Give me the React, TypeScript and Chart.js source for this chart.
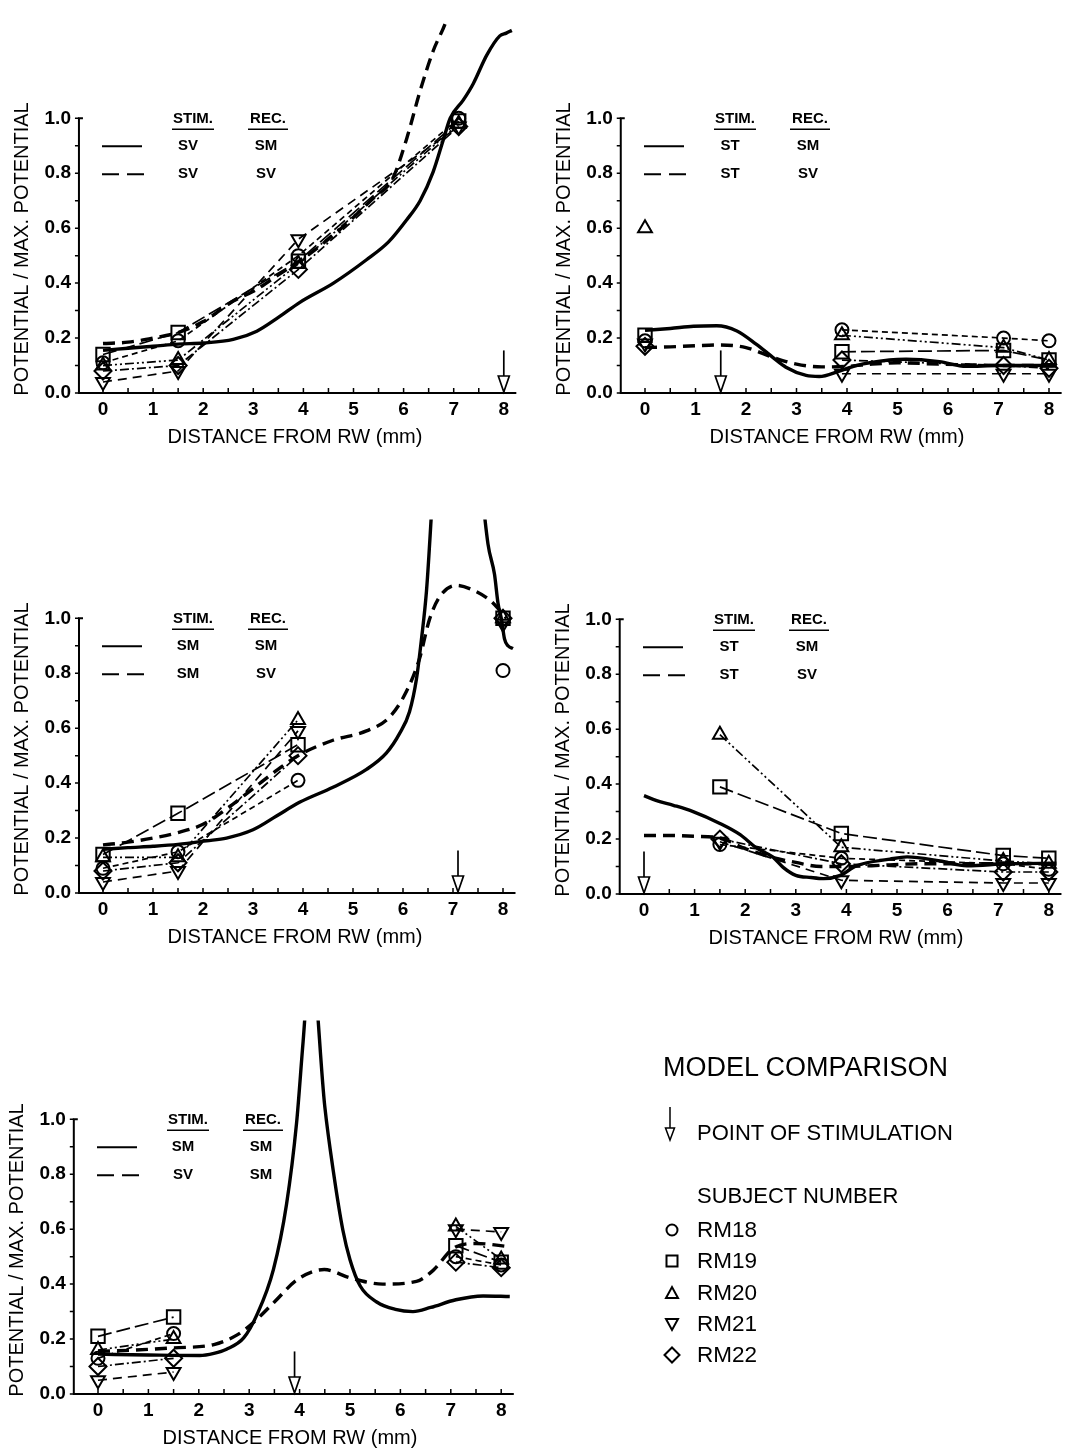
import React, { useEffect, useRef } from "react";
import { Chart, registerables } from "chart.js";

Chart.register(...registerables);

const FONT = '"Liberation Sans", Arial, Helvetica, sans-serif';

// ---------- shared axis values ----------
const X_TICKS = [0, 1, 2, 3, 4, 5, 6, 7, 8];
const Y_TICKS = [0, 0.2, 0.4, 0.6, 0.8, 1.0];
const X_MIN = -0.48;
const X_MAX = 8.25;
const Y_MAX = 1.36;

const SUBJECT_NAMES = ["RM18", "RM19", "RM20", "RM21", "RM22"];
const SUBJECT_X = [0, 1.5, 3.9, 7.1, 8];

// ---------- panel A : STIM SV ----------
const A_SOLID_X = [0, 0.5, 1.0, 1.5, 2.0, 2.6, 3.07, 3.5, 3.93, 4.6, 5.26, 5.7, 6.06, 6.33, 6.59, 6.79, 6.93, 7.19, 7.39, 7.66, 7.92, 8.05, 8.16];
const A_SOLID_Y = [0.155, 0.163, 0.17, 0.178, 0.182, 0.195, 0.225, 0.275, 0.33, 0.4, 0.485, 0.55, 0.63, 0.7, 0.805, 0.92, 1.0, 1.066, 1.126, 1.23, 1.3, 1.31, 1.32];
const A_DASH_X = [0, 0.5, 1.0, 1.5, 2.0, 2.6, 3.0, 3.5, 4.0, 4.5, 5.0, 5.4, 5.78, 6.06, 6.33, 6.59, 6.86, 6.95];
const A_DASH_Y = [0.18, 0.185, 0.2, 0.22, 0.26, 0.335, 0.37, 0.43, 0.49, 0.56, 0.64, 0.71, 0.78, 0.925, 1.1, 1.245, 1.36, 1.42];
const A_SUBJECTS = [
  [0.11, 0.19, 0.5, 1.0, null],
  [0.14, 0.22, 0.48, 0.99, null],
  [0.1, 0.12, 0.47, 0.98, null],
  [0.04, 0.08, 0.56, 0.97, null],
  [0.08, 0.1, 0.45, 0.97, null],
];
const A_ARROW = 8;
const A_STIM = ["SV", "SV"];
const A_REC = ["SM", "SV"];

// ---------- panel B : STIM ST ----------
const B_SOLID_X = [0, 0.5, 0.96, 1.42, 1.82, 2.2, 2.53, 2.79, 3.19, 3.45, 3.85, 4.18, 4.84, 5.17, 5.83, 6.36, 7.0, 7.6, 8.15];
const B_SOLID_Y = [0.228, 0.235, 0.243, 0.245, 0.226, 0.178, 0.13, 0.094, 0.064, 0.06, 0.08, 0.1, 0.12, 0.123, 0.114, 0.097, 0.1, 0.1, 0.1];
const B_DASH_X = [0, 0.5, 1.0, 1.5, 2.0, 2.53, 3.0, 3.5, 4.0, 4.5, 5.0, 5.8, 6.5, 7.2, 8.15];
const B_DASH_Y = [0.165, 0.168, 0.172, 0.175, 0.165, 0.13, 0.105, 0.095, 0.097, 0.105, 0.11, 0.105, 0.102, 0.1, 0.1];
const B_SUBJECTS = [
  [0.19, null, 0.23, 0.2, 0.19],
  [0.21, null, 0.15, 0.155, 0.12],
  [0.6, null, 0.21, 0.165, 0.12],
  [0.18, null, 0.07, 0.07, 0.07],
  [0.17, null, 0.12, 0.1, 0.09],
];
const B_ARROW = 1.5;
const B_STIM = ["ST", "ST"];
const B_REC = ["SM", "SV"];

// ---------- panel C : STIM SM ----------
const C_SOLID_X = [0, 0.5, 1.0, 1.5, 2.07, 2.47, 3.0, 3.47, 3.93, 4.6, 5.27, 5.67, 5.93, 6.13, 6.27, 6.37, 6.47, 6.65, 7.1, 7.5, 7.7, 7.83, 7.9, 7.97, 8.03, 8.1, 8.2];
const C_SOLID_Y = [0.159, 0.165, 0.17, 0.177, 0.19, 0.2, 0.23, 0.28, 0.33, 0.385, 0.45, 0.51, 0.58, 0.66, 0.78, 0.925, 1.1, 1.6, 2.2, 1.6, 1.27, 1.16, 1.055, 0.996, 0.925, 0.9, 0.89];
const C_DASH_X = [0, 0.5, 1.0, 1.5, 2.0, 2.5, 3.0, 3.5, 3.9, 4.6, 5.27, 5.73, 6.07, 6.33, 6.53, 6.73, 7.07, 7.4, 7.73, 7.93, 8.07];
const C_DASH_Y = [0.175, 0.185, 0.2, 0.22, 0.25, 0.31, 0.38, 0.45, 0.5, 0.556, 0.59, 0.64, 0.734, 0.853, 0.996, 1.078, 1.12, 1.103, 1.067, 1.03, 1.0];
const C_SUBJECTS = [
  [0.09, 0.15, 0.41, null, 0.81],
  [0.14, 0.29, 0.54, null, 1.0],
  [0.13, 0.13, 0.63, null, 1.0],
  [0.04, 0.08, 0.59, null, 0.98],
  [0.08, 0.11, 0.5, null, 1.0],
];
const C_ARROW = 7.1;
const C_STIM = ["SM", "SM"];
const C_REC = ["SM", "SV"];

// ---------- panel D : STIM ST ----------
const D_SOLID_X = [0, 0.25, 0.58, 0.97, 1.5, 1.9, 2.22, 2.55, 2.75, 3.0, 3.3, 3.55, 3.88, 4.2, 4.86, 5.2, 5.85, 6.38, 7.17, 8.15];
const D_SOLID_Y = [0.358, 0.34, 0.323, 0.3, 0.257, 0.216, 0.168, 0.134, 0.097, 0.068, 0.06, 0.056, 0.068, 0.103, 0.127, 0.135, 0.12, 0.103, 0.11, 0.112];
const D_DASH_X = [0, 0.5, 1.0, 1.5, 2.0, 2.5, 3.0, 3.5, 4.0, 4.5, 5.5, 6.5, 7.5, 8.15];
const D_DASH_Y = [0.213, 0.213, 0.21, 0.204, 0.165, 0.135, 0.115, 0.1, 0.1, 0.103, 0.11, 0.11, 0.11, 0.11];
const D_SUBJECTS = [
  [null, 0.18, 0.13, 0.11, 0.09],
  [null, 0.39, 0.22, 0.14, 0.13],
  [null, 0.58, 0.17, 0.12, 0.11],
  [null, 0.19, 0.05, 0.04, 0.04],
  [null, 0.2, 0.11, 0.08, 0.08],
];
const D_ARROW = 0;
const D_STIM = ["ST", "ST"];
const D_REC = ["SM", "SV"];

// ---------- panel E : REC SM ----------
const E_SOLID_X = [0, 1.0, 2.02, 2.3, 2.55, 2.89, 3.15, 3.48, 3.74, 3.94, 4.07, 4.22, 4.5, 4.67, 4.86, 5.0, 5.2, 5.53, 5.9, 6.25, 6.6, 7.1, 7.64, 8.17];
const E_SOLID_Y = [0.145, 0.142, 0.14, 0.148, 0.163, 0.204, 0.287, 0.453, 0.69, 0.987, 1.284, 1.6, 1.046, 0.81, 0.595, 0.489, 0.394, 0.335, 0.308, 0.3, 0.315, 0.343, 0.357, 0.355];
const E_DASH_X = [0, 0.75, 1.5, 2.3, 2.77, 3.1, 3.5, 3.96, 4.49, 5.0, 5.65, 6.32, 6.65, 7.05, 7.5, 8.17];
const E_DASH_Y = [0.155, 0.16, 0.168, 0.18, 0.216, 0.263, 0.335, 0.417, 0.453, 0.423, 0.4, 0.41, 0.45, 0.53, 0.548, 0.536];
const E_SUBJECTS = [
  [0.13, 0.22, null, 0.5, 0.47],
  [0.21, 0.28, null, 0.54, 0.48],
  [0.16, 0.2, null, 0.61, 0.49],
  [0.05, 0.08, null, 0.6, 0.59],
  [0.1, 0.13, null, 0.48, 0.46],
];
const E_ARROW = 3.9;
const E_STIM = ["SM", "SV"];
const E_REC = ["SM", "SM"];

// ---------- styles ----------
const MARKER_STYLE = ["circle", "rect", "triangle", "triangle", "rectRot"];
const MARKER_ROT = [0, 0, 0, 180, 0];
const MARKER_RADIUS = [6.5, 9.5, 8, 8, 8.5];
const SUBJECT_DASH = [[6, 4], [14, 5], [9, 3, 2, 3, 2, 3], [9, 6], [9, 3, 2, 3]];

const PANELS = [
  { key: "A", x0: 103, sx: 50.1, y0: 393, sX: A_SOLID_X, sY: A_SOLID_Y, dX: A_DASH_X, dY: A_DASH_Y, subj: A_SUBJECTS, arrow: A_ARROW, stim: A_STIM, rec: A_REC },
  { key: "B", x0: 645, sx: 50.5, y0: 393, sX: B_SOLID_X, sY: B_SOLID_Y, dX: B_DASH_X, dY: B_DASH_Y, subj: B_SUBJECTS, arrow: B_ARROW, stim: B_STIM, rec: B_REC },
  { key: "C", x0: 103, sx: 50.0, y0: 893, sX: C_SOLID_X, sY: C_SOLID_Y, dX: C_DASH_X, dY: C_DASH_Y, subj: C_SUBJECTS, arrow: C_ARROW, stim: C_STIM, rec: C_REC },
  { key: "D", x0: 644, sx: 50.6, y0: 894, sX: D_SOLID_X, sY: D_SOLID_Y, dX: D_DASH_X, dY: D_DASH_Y, subj: D_SUBJECTS, arrow: D_ARROW, stim: D_STIM, rec: D_REC },
  { key: "E", x0: 98, sx: 50.4, y0: 1394, sX: E_SOLID_X, sY: E_SOLID_Y, dX: E_DASH_X, dY: E_DASH_Y, subj: E_SUBJECTS, arrow: E_ARROW, stim: E_STIM, rec: E_REC },
];

const Y_SCALE_W = 60;
const X_SCALE_H = 40;

function canvasRect(p: any) {
  const left = p.x0 - 103;
  const top = p.y0 - 393;
  return { left, top, w: Math.min(540, 1074 - left), h: Math.min(460, 1453 - top) };
}

function makeDecor(p: any) {
  return {
    id: "decor" + p.key,
    afterDatasetsDraw(chart: any) {
      const ctx = chart.ctx;
      const xs = chart.scales.x;
      const ys = chart.scales.y;
      const X = (v: number) => xs.getPixelForValue(v);
      const Y = (v: number) => ys.getPixelForValue(v);
      const x0 = X(0), y0 = Y(0), y1 = Y(1);
      ctx.save();
      ctx.strokeStyle = "#000";
      ctx.fillStyle = "#000";
      ctx.setLineDash([]);
      // axes
      ctx.lineWidth = 2;
      ctx.beginPath();
      ctx.moveTo(xs.left - 1, y0);
      ctx.lineTo(xs.right, y0);
      ctx.moveTo(xs.left, y0 + 1);
      ctx.lineTo(xs.left, y1);
      ctx.lineTo(xs.left + 4, y1);
      ctx.stroke();
      // minor ticks
      ctx.lineWidth = 1.5;
      ctx.beginPath();
      for (let i = 0; i <= 10; i++) {
        const y = Y(i / 10);
        ctx.moveTo(xs.left, y);
        ctx.lineTo(xs.left - 4, y);
      }
      for (let i = 0; i <= 16; i++) {
        const x = X(i / 2);
        ctx.moveTo(x, y0);
        ctx.lineTo(x, y0 - 5);
      }
      ctx.stroke();
      // stimulation arrow
      const ax = X(p.arrow);
      ctx.lineWidth = 1.7;
      ctx.beginPath();
      ctx.moveTo(ax, Y(0.155));
      ctx.lineTo(ax, y0 - 17);
      ctx.stroke();
      ctx.beginPath();
      ctx.moveTo(ax - 5.5, y0 - 17);
      ctx.lineTo(ax + 5.5, y0 - 17);
      ctx.lineTo(ax, y0 - 1);
      ctx.closePath();
      ctx.fillStyle = "#fff";
      ctx.fill();
      ctx.stroke();
      // in-panel legend
      ctx.fillStyle = "#000";
      ctx.font = `bold 15px ${FONT}`;
      ctx.textAlign = "center";
      ctx.textBaseline = "middle";
      ctx.fillText("STIM.", x0 + 90, y1 + 1);
      ctx.fillText("REC.", x0 + 165, y1 + 1);
      ctx.lineWidth = 1.5;
      ctx.beginPath();
      ctx.moveTo(x0 + 69, y1 + 11);
      ctx.lineTo(x0 + 111, y1 + 11);
      ctx.moveTo(x0 + 145, y1 + 11);
      ctx.lineTo(x0 + 185, y1 + 11);
      ctx.stroke();
      ctx.fillText(p.stim[0], x0 + 85, y1 + 28);
      ctx.fillText(p.rec[0], x0 + 163, y1 + 28);
      ctx.fillText(p.stim[1], x0 + 85, y1 + 56);
      ctx.fillText(p.rec[1], x0 + 163, y1 + 56);
      ctx.lineWidth = 2;
      ctx.beginPath();
      ctx.moveTo(x0 - 1, y1 + 28);
      ctx.lineTo(x0 + 39, y1 + 28);
      ctx.stroke();
      ctx.setLineDash([17, 8]);
      ctx.beginPath();
      ctx.moveTo(x0 - 1, y1 + 56);
      ctx.lineTo(x0 + 41, y1 + 56);
      ctx.stroke();
      ctx.setLineDash([]);
      // axis titles
      ctx.font = `20px ${FONT}`;
      ctx.fillText("DISTANCE FROM RW (mm)", x0 + 192, y0 + 44);
      ctx.translate(x0 - 81, y0 - 144);
      ctx.rotate(-Math.PI / 2);
      ctx.fillText("POTENTIAL / MAX. POTENTIAL", 0, 0);
      ctx.restore();
    },
  };
}

function buildConfig(p: any) {
  const r = canvasRect(p);
  const leftL = 103 + X_MIN * p.sx;
  const rightL = 103 + X_MAX * p.sx;
  const topL = 393 - Y_MAX * 281;
  const modelBase = {
    showLine: true,
    borderColor: "#000",
    borderWidth: 3.4,
    pointRadius: 0,
    cubicInterpolationMode: "monotone",
    tension: 0.4,
    clip: { left: 4, right: 4, top: 0, bottom: 4 },
  };
  const datasets: any[] = [
    { ...modelBase, label: "solid", data: p.sX.map((x: number, i: number) => ({ x, y: p.sY[i] })) },
    { ...modelBase, label: "dashed", borderDash: [12, 7], data: p.dX.map((x: number, i: number) => ({ x, y: p.dY[i] })) },
  ];
  p.subj.forEach((vals: (number | null)[], k: number) => {
    datasets.push({
      label: SUBJECT_NAMES[k],
      data: SUBJECT_X.map((x, i) => ({ x, y: vals[i] })),
      showLine: true,
      spanGaps: false,
      tension: 0,
      borderColor: "#000",
      borderWidth: 1.7,
      borderDash: SUBJECT_DASH[k],
      pointStyle: MARKER_STYLE[k],
      pointRotation: MARKER_ROT[k],
      pointRadius: MARKER_RADIUS[k],
      pointBorderWidth: 2,
      pointBorderColor: "#000",
      pointBackgroundColor: "rgba(0,0,0,0)",
      clip: 14,
    });
  });
  return {
    type: "scatter",
    data: { datasets },
    options: {
      responsive: false,
      animation: false,
      devicePixelRatio: 1,
      events: [],
      layout: {
        padding: {
          left: leftL - Y_SCALE_W,
          right: r.w - rightL,
          top: topL,
          bottom: r.h - 393 - X_SCALE_H,
        },
      },
      plugins: { legend: { display: false }, tooltip: { enabled: false } },
      scales: {
        x: {
          type: "linear",
          min: X_MIN,
          max: X_MAX,
          afterBuildTicks: (s: any) => {
            s.ticks = X_TICKS.map((v) => ({ value: v }));
          },
          afterFit: (s: any) => {
            s.height = X_SCALE_H;
          },
          grid: { display: false, drawTicks: false },
          border: { display: false },
          ticks: {
            color: "#000",
            font: { family: FONT, size: 19, weight: "bold" },
            padding: 5,
            autoSkip: false,
            maxRotation: 0,
            callback: (v: any) => String(v),
          },
        },
        y: {
          type: "linear",
          min: 0,
          max: Y_MAX,
          afterBuildTicks: (s: any) => {
            s.ticks = Y_TICKS.map((v) => ({ value: v }));
          },
          afterFit: (s: any) => {
            s.width = Y_SCALE_W;
          },
          grid: { display: false, drawTicks: false },
          border: { display: false },
          ticks: {
            color: "#000",
            font: { family: FONT, size: 19, weight: "bold" },
            padding: 8,
            autoSkip: false,
            callback: (v: any) => Number(v).toFixed(1),
          },
        },
      },
    },
    plugins: [makeDecor(p)],
  };
}

function Panel({ p }: { p: any }) {
  const ref = useRef<HTMLCanvasElement>(null);
  useEffect(() => {
    if (!ref.current) return;
    const chart = new Chart(ref.current, buildConfig(p) as any);
    return () => chart.destroy();
  }, []);
  const r = canvasRect(p);
  return (
    <canvas
      ref={ref}
      width={r.w}
      height={r.h}
      style={{ position: "absolute", left: r.left, top: r.top, width: r.w, height: r.h }}
    />
  );
}

const LEGEND_ROW_Y = [1230, 1261, 1293, 1324, 1355];

function LegendSymbol({ k, cx, cy }: { k: number; cx: number; cy: number }) {
  const s = { fill: "none", stroke: "#000", strokeWidth: 2 };
  if (k === 0) return <circle cx={cx} cy={cy} r={5.5} {...s} />;
  if (k === 1) return <rect x={cx - 5.5} y={cy - 5.5} width={11} height={11} {...s} />;
  if (k === 2) return <polygon points={`${cx - 6},${cy + 5} ${cx + 6},${cy + 5} ${cx},${cy - 6}`} {...s} />;
  if (k === 3) return <polygon points={`${cx - 6},${cy - 5} ${cx + 6},${cy - 5} ${cx},${cy + 6}`} {...s} />;
  return <polygon points={`${cx - 7.5},${cy} ${cx},${cy - 7.5} ${cx + 7.5},${cy} ${cx},${cy + 7.5}`} {...s} />;
}

function Legend() {
  const text = (t: string, left: number, cy: number, size: number) => (
    <div
      key={t}
      style={{
        position: "absolute",
        left,
        top: cy - 15,
        height: 30,
        lineHeight: "30px",
        fontFamily: FONT,
        fontSize: size,
        color: "#000",
        whiteSpace: "nowrap",
      }}
    >
      {t}
    </div>
  );
  return (
    <>
      <svg width={1074} height={1453} style={{ position: "absolute", left: 0, top: 0 }}>
        <line x1={670} y1={1107} x2={670} y2={1128} stroke="#000" strokeWidth={1.5} />
        <polygon points="665.5,1128 674.5,1128 670,1140" fill="#fff" stroke="#000" strokeWidth={1.5} />
        {SUBJECT_NAMES.map((_, k) => (
          <LegendSymbol key={k} k={k} cx={672} cy={LEGEND_ROW_Y[k]} />
        ))}
      </svg>
      {text("MODEL COMPARISON", 663, 1067, 27)}
      {text("POINT OF STIMULATION", 697, 1133, 22)}
      {text("SUBJECT NUMBER", 697, 1196, 22)}
      {SUBJECT_NAMES.map((n, k) => text(n, 697, LEGEND_ROW_Y[k], 22.5))}
    </>
  );
}

export default function App() {
  return (
    <div style={{ position: "absolute", left: 0, top: 0, width: 1074, height: 1453, background: "#fff", overflow: "hidden" }}>
      {PANELS.map((p) => (
        <Panel key={p.key} p={p} />
      ))}
      <Legend />
    </div>
  );
}
